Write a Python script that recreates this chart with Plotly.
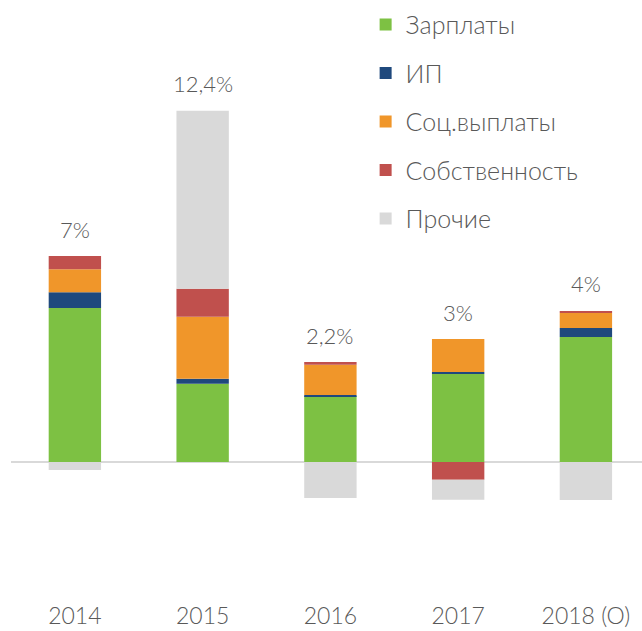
import plotly.graph_objects as go

categories = ["2014", "2015", "2016", "2017", "2018 (О)"]
series_names = ["Зарплаты", "ИП", "Соц.выплаты", "Собственность", "Прочие"]
zarplaty = [5.42, 2.75, 2.32, 3.10, 4.40]
ip = [0.56, 0.18, 0.04, 0.07, 0.32]
soc = [0.81, 2.18, 1.06, 1.16, 0.53]
sobst = [0.46, 0.99, 0.10, -0.63, 0.07]
prochie = [-0.28, 6.27, -1.27, -0.70, -1.34]
total_labels = ["7%", "12,4%", "2,2%", "3%", "4%"]

colors = ["#7DC143", "#1F497D", "#F0962A", "#C0504D", "#D9D9D9"]
values = [zarplaty, ip, soc, sobst, prochie]

FONT = "Lato Light, Lato, Open Sans"
TXT = "#595959"

fig = go.Figure()
for name, vals, col in zip(series_names, values, colors):
    fig.add_trace(go.Bar(
        x=categories, y=vals, name=name, legendgroup=name,
        marker=dict(color=col, line=dict(width=0)),
        hoverinfo="skip",
    ))

pos_tops = [sum(v[i] for v in values if v[i] > 0) for i in range(len(categories))]
for i, (top, lab) in enumerate(zip(pos_tops, total_labels)):
    fig.add_annotation(x=i, y=top, xref="x", yref="y", text=lab, showarrow=False,
                       yanchor="middle", yshift=27,
                       font=dict(family=FONT, size=22, color=TXT, weight=300))

fig.update_layout(
    width=642, height=631,
    margin=dict(l=11, r=0, t=0, b=41),
    paper_bgcolor="white", plot_bgcolor="white",
    barmode="relative", bargap=0.59,
    showlegend=True,
    legend=dict(x=0.562, y=0.997, xanchor="left", yanchor="top",
                traceorder="grouped", tracegroupgap=13, itemwidth=30,
                font=dict(family=FONT, size=25, color=TXT, weight=300),
                bgcolor="rgba(0,0,0,0)"),
    xaxis=dict(range=[-0.5, 4.439], showgrid=False, showline=False,
               ticks="", zeroline=False, ticklabelstandoff=10,
               tickfont=dict(family=FONT, size=23, color=TXT, weight=300)),
    yaxis=dict(range=[-4.51, 16.27], showgrid=False, showticklabels=False,
               zeroline=True, zerolinecolor="#D9D9D9", zerolinewidth=2,
               showline=False, ticks=""),
)

fig.write_html("out.html", config={"displayModeBar": False},
               post_script="document.body.style.margin='0';")
